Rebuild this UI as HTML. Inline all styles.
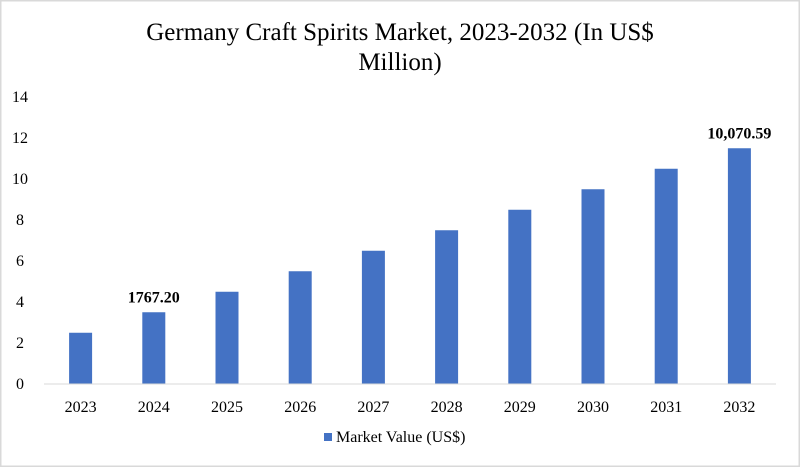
<!DOCTYPE html>
<html><head><meta charset="utf-8"><style>
html,body{margin:0;padding:0;background:#fff}
svg{display:block}
text{font-family:"Liberation Serif",serif}
</style></head><body>
<svg id="chart" width="800" height="467" viewBox="0 0 800 467">
<rect x="0.75" y="0.75" width="798.5" height="465.5" fill="#fff" stroke="#d9d9d9" stroke-width="1.5"/>
<text x="400" y="40" text-anchor="middle" font-size="25" fill="#000">Germany Craft Spirits Market, 2023-2032 (In US$</text>
<text x="400" y="70" text-anchor="middle" font-size="25" fill="#000">Million)</text>
<g id="yaxis"></g>
<g id="bars"></g>
<g id="xaxis"></g>
<g>
<rect x="324" y="433" width="8" height="8" fill="#4472c4"/>
<text x="336" y="442" font-size="16" fill="#000">Market Value (US$)</text>
</g>
</svg>
<script>
const categories=["2023","2024","2025","2026","2027","2028","2029","2030","2031","2032"];
const values=[2.5,3.5,4.5,5.5,6.5,7.5,8.5,9.5,10.5,11.5];
const yTicks=[0,2,4,6,8,10,12,14];
const dataLabels=["","1767.20","","","","","","","","10,070.59"];
const NS="http://www.w3.org/2000/svg";
const x0=44,x1=776,y0=384,yTop=97,yMax=14;
const band=(x1-x0)/categories.length;
function xc(i){return x0+band*(i+0.5);}
function ys(v){return y0-(v/yMax)*(y0-yTop);}
function mk(tag,attrs,parent,txt){const e=document.createElementNS(NS,tag);for(const k in attrs)e.setAttribute(k,attrs[k]);if(txt!==undefined)e.textContent=txt;parent.appendChild(e);return e;}
const ya=document.getElementById('yaxis'),ba=document.getElementById('bars'),xa=document.getElementById('xaxis');
yTicks.forEach(t=>{
 const e=mk('text',{x:20,y:ys(t)+5,'text-anchor':'middle','font-size':16,fill:'#000'},ya,String(t));
 
 
});
const ax=mk('line',{x1:x0,x2:x1,y1:y0,y2:y0,stroke:'#d9d9d9','stroke-width':1},xa);


categories.forEach((c,i)=>{
 const w=23,h=y0-ys(values[i]);
 const r=mk('rect',{x:xc(i)-w/2,y:ys(values[i]),width:w,height:h,fill:'#4472c4'},ba);
 
 
 const t=mk('text',{x:xc(i),y:412,'text-anchor':'middle','font-size':16,fill:'#000'},xa,c);
 
 
 if(dataLabels[i]){
  const l=mk('text',{x:xc(i),y:ys(values[i])-10,'text-anchor':'middle','font-size':16,'font-weight':'bold',fill:'#000'},ba,dataLabels[i]);
  
  
 }
});
</script>
</body></html>
